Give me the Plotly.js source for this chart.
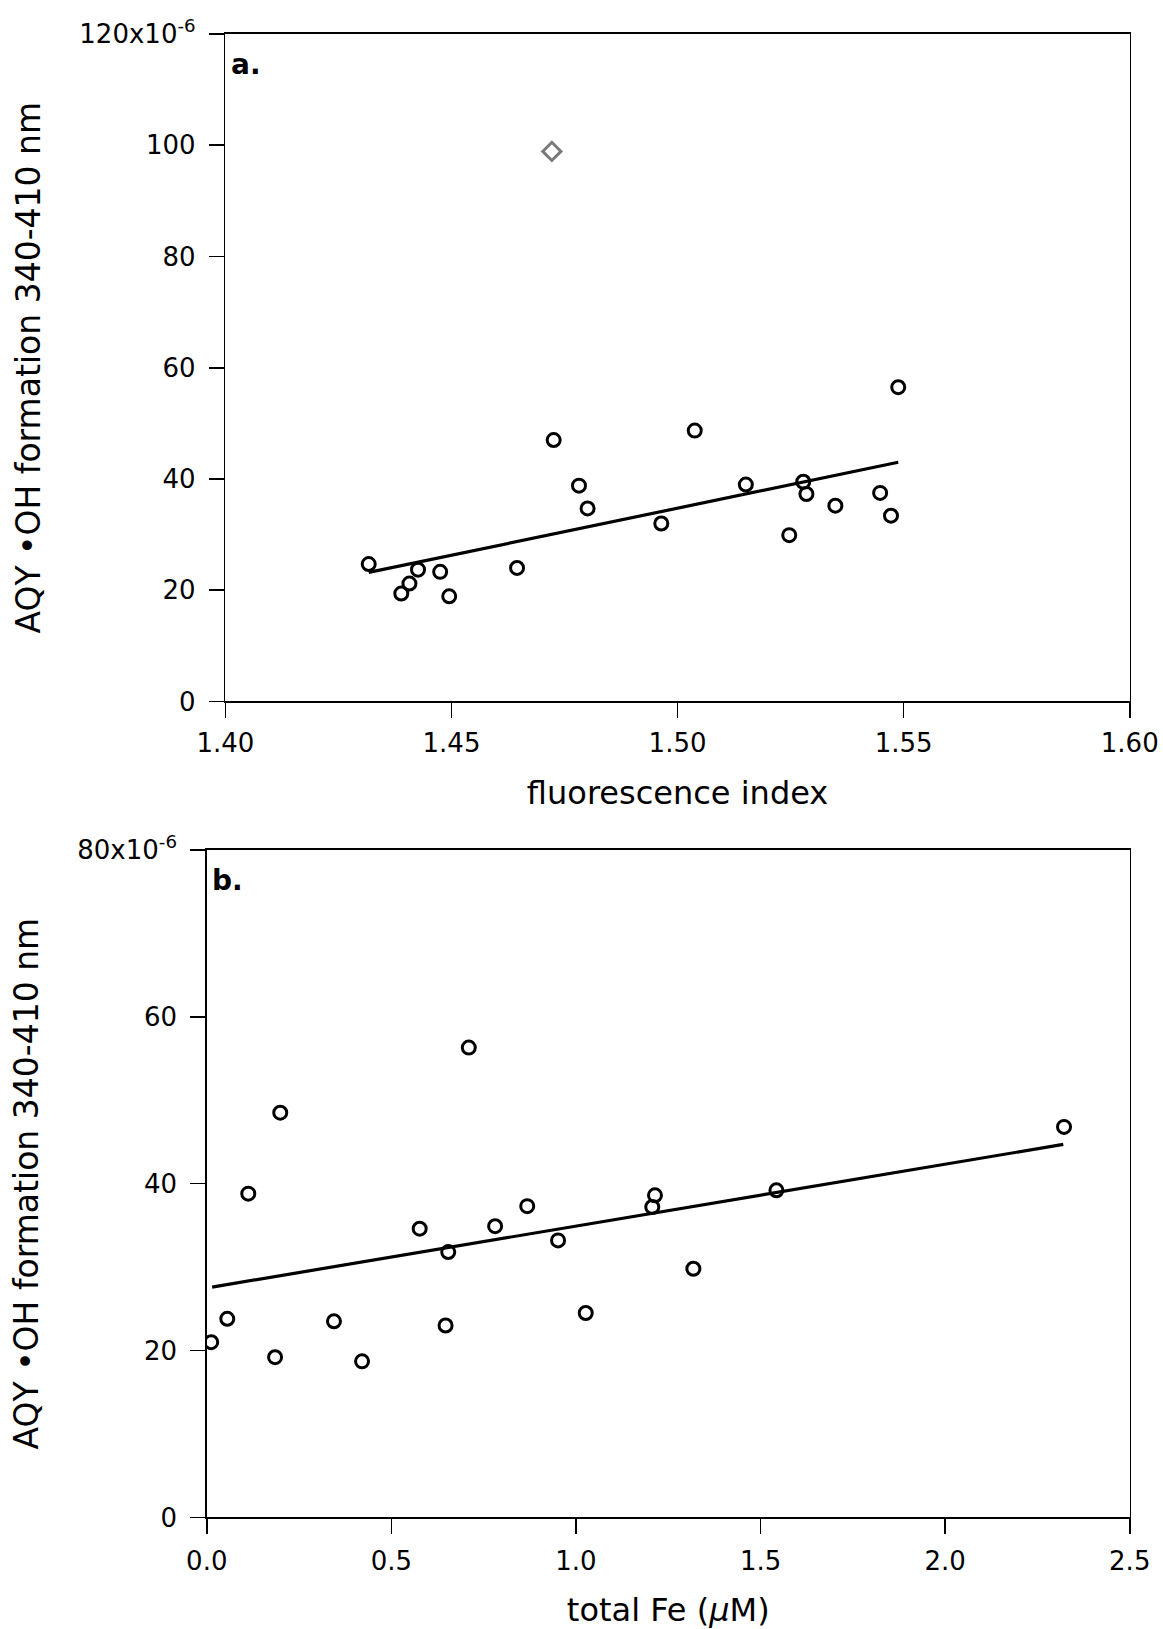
<!DOCTYPE html>
<html>
<head>
<meta charset="utf-8">
<script src="https://cdn.plot.ly/plotly-3.0.1.min.js"></script>
<style>
html,body{margin:0;padding:0;background:#fff;}
#chart{width:1163px;height:1629px;}
</style>
</head>
<body>
<div id="chart"></div>
<script>
// Panel a: AQY (x1e-6) vs fluorescence index
const fiX = [1.4317, 1.4389, 1.4407, 1.4426, 1.4475, 1.4495, 1.4645, 1.4726, 1.4782, 1.4801,
             1.4964, 1.5038, 1.5151, 1.5247, 1.5278, 1.5285, 1.5349, 1.5448, 1.5472, 1.5488];
const fiY = [24.7, 19.4, 21.2, 23.7, 23.3, 18.9, 24.0, 47.0, 38.8, 34.7,
             32.0, 48.7, 39.0, 29.9, 39.5, 37.3, 35.2, 37.5, 33.4, 56.5];
const outlierX = [1.4722];
const outlierY = [98.9];
const fitAX = [1.4317, 1.5488];
const fitAY = [23.2, 43.0];

// Panel b: AQY (x1e-6) vs total Fe (uM)
const feX = [0.012, 0.0555, 0.1124, 0.185, 0.199, 0.3445, 0.4206, 0.5767, 0.6468, 0.654,
             0.7097, 0.781, 0.868, 0.9515, 1.0265, 1.2067, 1.214, 1.318, 1.543, 2.322];
const feY = [21.0, 23.8, 38.8, 19.2, 48.5, 23.5, 18.7, 34.6, 23.0, 31.8,
             56.3, 34.9, 37.3, 33.2, 24.5, 37.2, 38.6, 29.8, 39.2, 46.8];
const fitBX = [0.0145, 2.32];
const fitBY = [27.6, 44.7];

// Tick labels
const xTickA = [1.40, 1.45, 1.50, 1.55, 1.60];
const xTickAText = ['1.40', '1.45', '1.50', '1.55', '1.60'];
const yTickA = [0, 20, 40, 60, 80, 100, 120];
const yTickAText = ['0', '20', '40', '60', '80', '100', '120x10<sup>-6</sup>'];
const xTickB = [0, 0.5, 1.0, 1.5, 2.0, 2.5];
const xTickBText = ['0.0', '0.5', '1.0', '1.5', '2.0', '2.5'];
const yTickB = [0, 20, 40, 60, 80];
const yTickBText = ['0', '20', '40', '60', '80x10<sup>-6</sup>'];

const FONT = 'DejaVu Sans, Lucida Grande, sans-serif';
const circ = {symbol: 'circle-open', size: 13, color: '#000', line: {width: 3, color: '#000'}};
const yTitle = 'AQY \u2022OH formation 340-410 nm';

const traces = [
  {x: fitAX, y: fitAY, xaxis: 'x', yaxis: 'y', mode: 'lines', line: {color: '#000', width: 3.2}, hoverinfo: 'skip'},
  {x: fiX, y: fiY, xaxis: 'x', yaxis: 'y', mode: 'markers', marker: circ},
  {x: outlierX, y: outlierY, xaxis: 'x', yaxis: 'y', mode: 'markers',
   marker: {symbol: 'diamond-open', size: 14, color: '#7a7a7a', line: {width: 3, color: '#7a7a7a'}}},
  {x: fitBX, y: fitBY, xaxis: 'x2', yaxis: 'y2', mode: 'lines', line: {color: '#000', width: 3.2}, hoverinfo: 'skip'},
  {x: feX, y: feY, xaxis: 'x2', yaxis: 'y2', mode: 'markers', marker: circ}
];

const axBase = {
  showgrid: false, zeroline: false, showline: true, linecolor: '#000', linewidth: 1.6,
  mirror: true, ticks: 'outside', ticklen: 15, tickwidth: 1.6, tickcolor: '#000',
  tickfont: {family: FONT, size: 26, color: '#000'}, fixedrange: true
};

const layout = {
  width: 1163, height: 1629,
  margin: {l: 0, r: 0, t: 0, b: 0},
  paper_bgcolor: '#fff', plot_bgcolor: '#fff',
  showlegend: false,
  font: {family: FONT, color: '#000'},
  xaxis: Object.assign({}, axBase, {
    domain: [0.1938, 0.9714], anchor: 'y', range: [1.40, 1.60],
    tickmode: 'array', tickvals: xTickA, ticktext: xTickAText, ticklabelstandoff: 3,
    title: {text: 'fluorescence index', font: {family: FONT, size: 32, color: '#000'}, standoff: 24}
  }),
  yaxis: Object.assign({}, axBase, {
    domain: [0.5694, 0.9791], anchor: 'x', range: [0, 120],
    tickmode: 'array', tickvals: yTickA, ticktext: yTickAText, ticklabelstandoff: 8,
    title: {text: yTitle, font: {family: FONT, size: 33, color: '#000'}, standoff: 29}
  }),
  xaxis2: Object.assign({}, axBase, {
    domain: [0.1778, 0.9714], anchor: 'y2', range: [0, 2.5],
    tickmode: 'array', tickvals: xTickB, ticktext: xTickBText, ticklabelstandoff: 5,
    title: {text: 'total Fe (<i>\u03BC</i>M)', font: {family: FONT, size: 32, color: '#000'}, standoff: 23}
  }),
  yaxis2: Object.assign({}, axBase, {
    domain: [0.0685, 0.4783], anchor: 'x2', range: [0, 80],
    tickmode: 'array', tickvals: yTickB, ticktext: yTickBText, ticklabelstandoff: 8,
    title: {text: yTitle, font: {family: FONT, size: 33, color: '#000'}, standoff: 29}
  }),
  annotations: [
    {text: '<b>a.</b>', xref: 'x domain', yref: 'y domain', x: 0.004, y: 0.982, xanchor: 'left', yanchor: 'top',
     showarrow: false, font: {family: FONT, size: 28, color: '#000'}},
    {text: '<b>b.</b>', xref: 'x2 domain', yref: 'y2 domain', x: 0.004, y: 0.982, xanchor: 'left', yanchor: 'top',
     showarrow: false, font: {family: FONT, size: 28, color: '#000'}}
  ]
};

Plotly.newPlot('chart', traces, layout, {displayModeBar: false, staticPlot: true});
</script>
</body>
</html>
